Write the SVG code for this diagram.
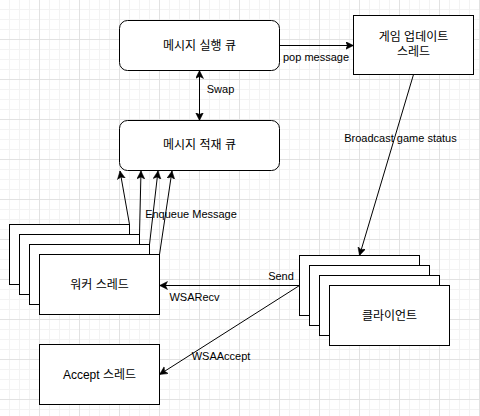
<svg xmlns="http://www.w3.org/2000/svg" width="480" height="416" viewBox="0 0 480 416">
<defs>
<pattern id="grid" width="40" height="40" patternUnits="userSpaceOnUse">
<path d="M9.5 0V40M19.5 0V40M29.5 0V40M0 9.5H40M0 19.5H40M0 29.5H40" stroke="#f3f3f3" stroke-width="1" fill="none"/>
<path d="M39.5 0V40M0 39.5H40" stroke="#e2e2e2" stroke-width="1" fill="none"/>
</pattern>
<marker id="arr" markerUnits="userSpaceOnUse" markerWidth="10" markerHeight="10" refX="8" refY="4" orient="auto-start-reverse" viewBox="0 0 10 10">
<path d="M8 4L0 0L2 4L0 8Z" fill="#000" stroke="#000" stroke-width="0.5"/>
</marker>
<style>
.n{fill:#fff;stroke:#000;stroke-width:1}
.t{font-family:"Liberation Sans","Noto Sans CJK KR",sans-serif;font-size:12px;fill:#000;text-anchor:middle}
.l{font-family:"Liberation Sans","Noto Sans CJK KR",sans-serif;font-size:11px;fill:#000;text-anchor:middle}
.e{stroke:#000;stroke-width:1;fill:none;marker-end:url(#arr)}
</style>
</defs>
<rect width="480" height="416" fill="#fff"/>
<rect width="480" height="416" fill="url(#grid)"/>
<g id="connectors">
<path class="e" d="M279.5 45.5H353.5"/>
<path class="e" d="M199.5 70.5V120.5" style="marker-start:url(#arr)"/>
<path class="e" d="M413.5 74.5L359.5 255.5"/>
<path class="e" d="M129.5 224.5L120 171"/>
<path class="e" d="M139.5 234.5L141 171"/>
<path class="e" d="M149.5 244.5L158 171"/>
<path class="e" d="M159.5 254.5L172 171"/>
<path class="e" d="M299.5 285.5H159.5"/>
<path class="e" d="M299.5 285.5L159.5 374.5"/>
<text class="l" x="316" y="60.5">pop message</text>
<text class="l" x="220.5" y="92.5">Swap</text>
<text class="l" x="400.5" y="142">Broadcast game status</text>
<text class="l" x="191" y="218">Enqueue Message</text>
<text class="l" x="281" y="280">Send</text>
<text class="l" x="194.5" y="300.5">WSARecv</text>
<text class="l" x="221" y="360">WSAAccept</text>
</g>
<g id="exec-queue">
<rect class="n" x="119.5" y="20.5" width="160" height="50" rx="8"/>
<text class="t" x="199.5" y="49.5">메시지 실행 큐</text>
</g>
<g id="game-update-thread">
<rect class="n" x="353.5" y="15.5" width="120" height="59"/>
<text class="t" x="413.5" y="41">게임 업데이트</text>
<text class="t" x="413.5" y="56">스레드</text>
</g>
<g id="stack-queue">
<rect class="n" x="119.5" y="120.5" width="160" height="50" rx="8"/>
<text class="t" x="199.5" y="149">메시지 적재 큐</text>
</g>
<g id="worker-threads">
<rect class="n" x="9.5" y="224.5" width="120" height="60"/>
<rect class="n" x="19.5" y="234.5" width="120" height="60"/>
<rect class="n" x="29.5" y="244.5" width="120" height="60"/>
<rect class="n" x="39.5" y="254.5" width="120" height="60"/>
<text class="t" x="99.5" y="288.5">워커 스레드</text>
</g>
<g id="clients">
<rect class="n" x="299.5" y="255.5" width="120" height="60"/>
<rect class="n" x="309.5" y="265.5" width="120" height="60"/>
<rect class="n" x="319.5" y="275.5" width="120" height="60"/>
<rect class="n" x="329.5" y="285.5" width="120" height="60"/>
<text class="t" x="389.5" y="319.5">클라이언트</text>
</g>
<g id="accept-thread">
<rect class="n" x="39.5" y="344.5" width="120" height="60"/>
<text class="t" x="99.5" y="378.5">Accept 스레드</text>
</g>
</svg>
